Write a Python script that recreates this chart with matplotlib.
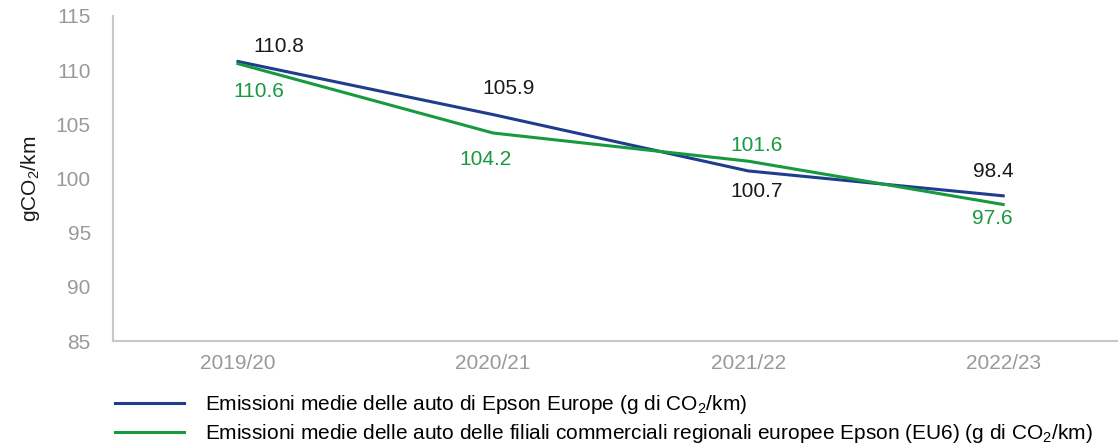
import matplotlib.pyplot as plt

plt.rcParams['font.family'] = ['Liberation Sans', 'DejaVu Sans']
plt.rcParams['mathtext.fontset'] = 'custom'
plt.rcParams['mathtext.rm'] = 'Liberation Sans'
plt.rcParams['mathtext.it'] = 'Liberation Sans'

years = ['2019/20', '2020/21', '2021/22', '2022/23']
epson_europe = [110.8, 105.9, 100.7, 98.4]
filiali = [110.6, 104.2, 101.6, 97.6]

label_europe = 'Emissioni medie delle auto di Epson Europe (g di CO$_2$/km)'
label_filiali = ('Emissioni medie delle auto delle filiali commerciali regionali '
                 'europee Epson (EU6) (g di CO$_2$/km)')

# value label offsets in pixels (dx, dy)
off_europe = [(41, 15), (15, 26), (8, -21), (-10, 24)]
off_filiali = [(21, -28), (-8, -27), (8, 16), (-11, -14)]

blue = '#1f3d8c'
green = '#17993f'
grey = '#999999'
W, H = 1118, 448

fig = plt.figure(figsize=(W / 100, H / 100), dpi=100)
ax = fig.add_axes([113 / W, 1 - 341 / H, 1 - 113 / W, 325 / H])

x = range(len(years))
ax.plot(x, epson_europe, color=blue, lw=2.2, label=label_europe)
ax.plot(x, filiali, color=green, lw=2.2, label=label_filiali)

px = 72 / 100  # points per pixel
for i in x:
    dx, dy = off_europe[i]
    ax.annotate(f'{epson_europe[i]}', (i, epson_europe[i]), xytext=(dx * px, dy * px),
                textcoords='offset points', ha='center', va='center',
                fontsize=15, color='#1a1a1a')
    dx, dy = off_filiali[i]
    ax.annotate(f'{filiali[i]}', (i, filiali[i]), xytext=(dx * px, dy * px),
                textcoords='offset points', ha='center', va='center',
                fontsize=15, color=green)

ax.set_xlim(-0.49, 3.45)
ax.set_ylim(85, 115)
ax.set_xticks(list(x))
ax.set_xticklabels(years)
ax.set_yticks(range(85, 116, 5))
ax.tick_params(length=0, labelsize=15, labelcolor=grey)
ax.tick_params(axis='x', pad=9)
ax.tick_params(axis='y', pad=16)
for s in ['top', 'right']:
    ax.spines[s].set_visible(False)
for s in ['left', 'bottom']:
    ax.spines[s].set_color('#c8c8c8')
    ax.spines[s].set_linewidth(1.5)
ax.set_ylabel('gCO$_2$/km', fontsize=15, color='#1a1a1a', labelpad=10)

fig.legend(loc='center left', bbox_to_anchor=(115 / W, 1 - 419 / H), frameon=False,
           fontsize=15, handlelength=3.3, handletextpad=1.0, labelspacing=0.3,
           borderaxespad=0, borderpad=0)

fig.savefig('out.png', dpi=100)
